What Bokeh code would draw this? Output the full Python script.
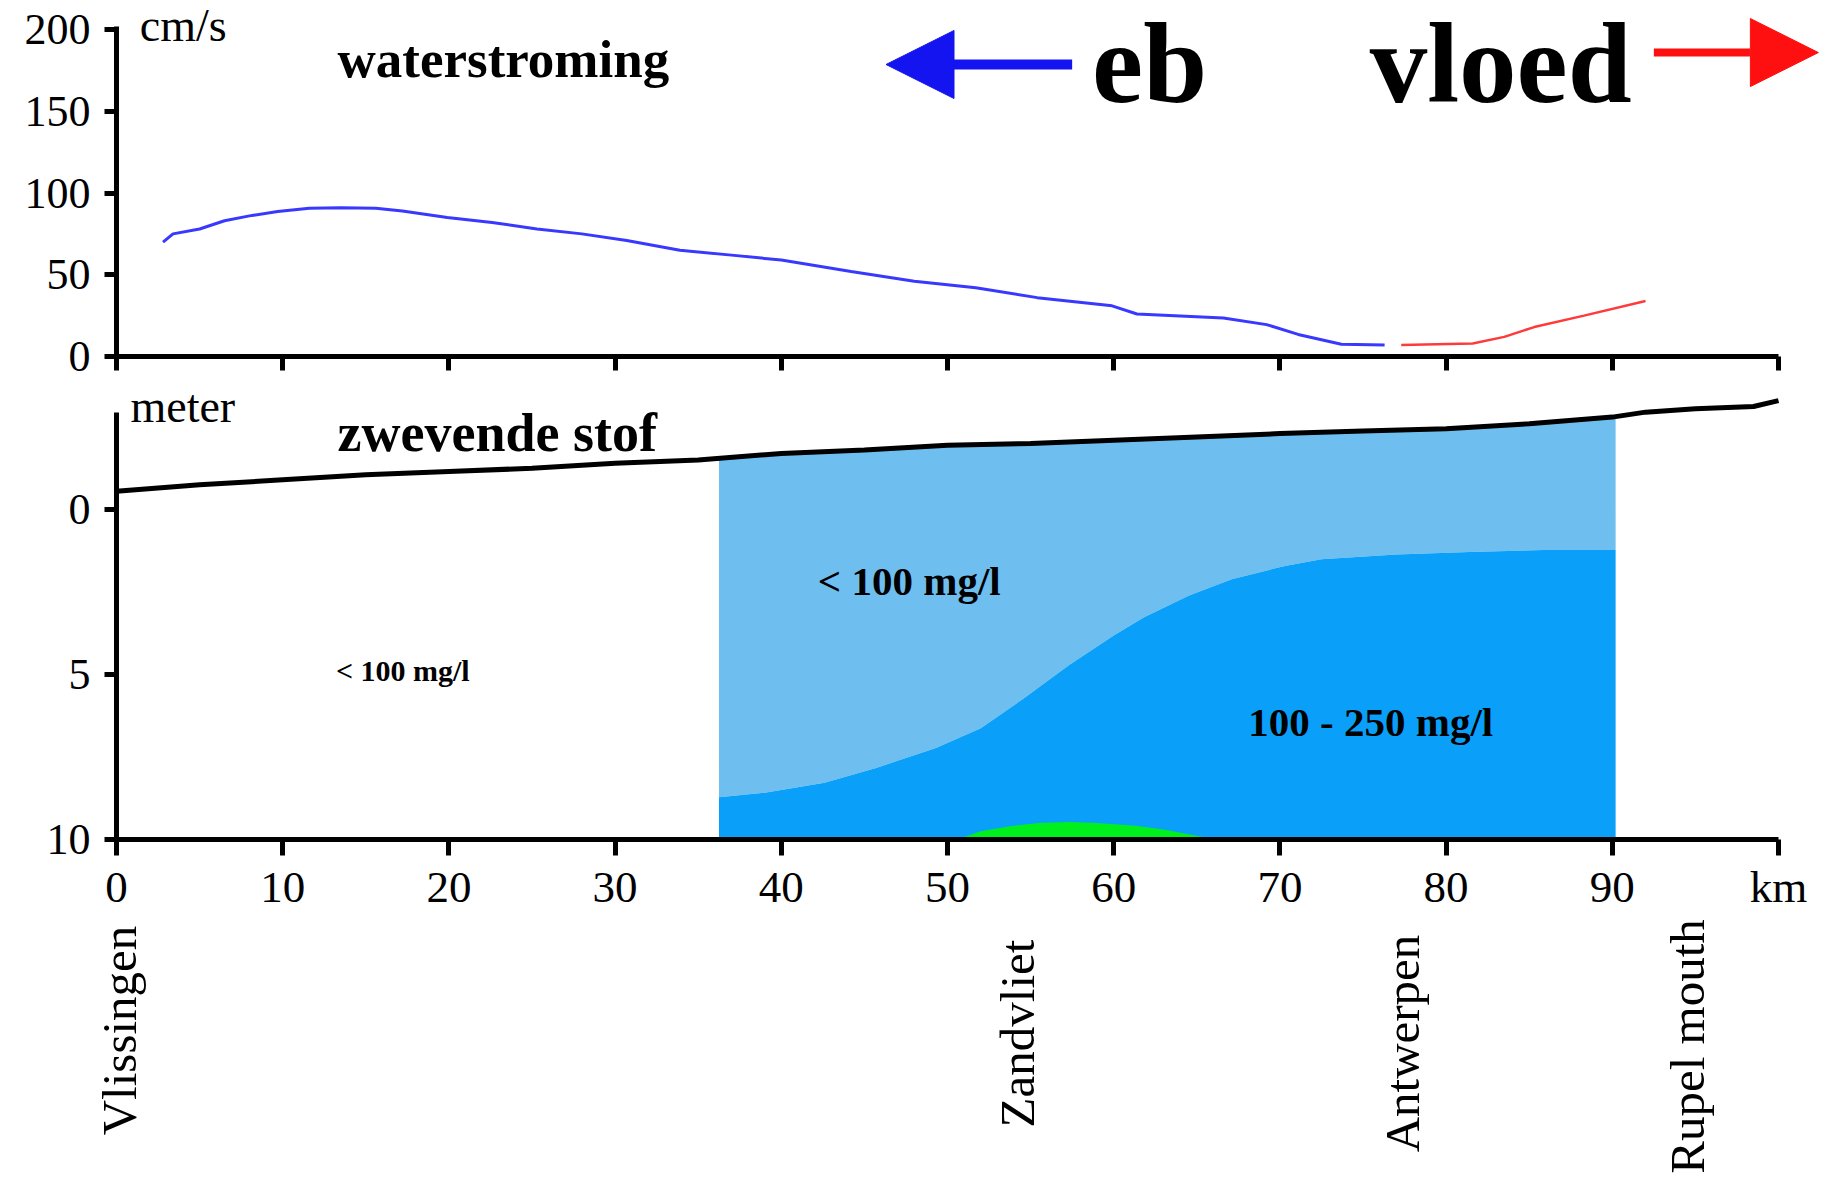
import numpy as np
from bokeh.plotting import figure
from bokeh.layouts import column
from bokeh.models import Range1d, FixedTicker, Arrow, NormalHead
from bokeh.core.properties import value
from bokeh.embed import file_html
from bokeh.resources import INLINE

# ---------------- data ----------------
# ebb current velocity (cm/s) along the estuary (km)
eb_km = [2.8, 3.4, 5, 6.5, 8, 9.7, 11.6, 13.5, 15.6, 17.2, 19.9, 22.6, 25.3, 28, 30.7,
         33.9, 37, 40, 44.2, 48, 51.7, 55.4, 59.9, 61.4, 66.6, 69.2, 71.1, 73.7, 76.3]
eb_v = [70, 75, 78, 83, 86, 88.7, 90.7, 91, 90.7, 89, 85, 82, 78, 75, 71,
        65, 62, 59, 52, 46, 42, 36, 31, 26, 23.5, 19.5, 13.5, 7.5, 7]
# flood current velocity
vloed_km = [77.3, 81.6, 83.5, 85.3, 88.3, 92]
vloed_v = [7, 8, 12, 18, 25, 34]

# water surface (m, depth axis pointing down)
surf_km = [0, 5, 10, 15, 20, 25, 30, 35, 40, 45, 50, 55, 60, 65, 70, 75, 80, 85, 90, 92, 95, 98.5, 100]
surf_d = [-0.55, -0.75, -0.9, -1.05, -1.15, -1.25, -1.4, -1.5, -1.7, -1.8, -1.95, -2.0, -2.1,
          -2.2, -2.3, -2.38, -2.45, -2.6, -2.8, -2.95, -3.05, -3.12, -3.3]

# suspended matter zones: boundary between <100 mg/l and 100-250 mg/l
zone_km = [36.25, 39, 42.6, 45.7, 49.3, 52, 54.6, 57.3, 60, 61.8, 64.5, 67.1, 70.3, 72.5,
           77, 81.4, 85.9, 90.2]
zone_mid = [8.72, 8.58, 8.28, 7.83, 7.23, 6.63, 5.72, 4.72, 3.82, 3.27, 2.61, 2.11, 1.71, 1.51,
            1.36, 1.29, 1.23, 1.23]
bottom_depth = 10
# high-concentration bump
green_km = [50.6, 52, 53.75, 55.5, 57.3, 59, 61.3, 63, 64.5, 66.2]
green_top = [10, 9.75, 9.6, 9.5, 9.47, 9.5, 9.58, 9.7, 9.84, 10]

x_ticks = [0, 10, 20, 30, 40, 50, 60, 70, 80, 90, 100]
v_ticks = [0, 50, 100, 150, 200]
d_ticks = [0, 5, 10]

places = ["Vlissingen", "Zandvliet", "Antwerpen", "Rupel mouth"]
places_km = [0.2, 54.2, 77.4, 94.5]

# ---------------- layout constants ----------------
W = 1822
LEFT = 116
PX_KM = 16.62
XMAX = (W - LEFT) / PX_KM
SERIF = "Liberation Serif"
LIGHT = "#6ebff0"
DARK = "#0aa0fa"
GREEN = "#00f01e"

xr = Range1d(0, XMAX)


def style(p):
    p.outline_line_color = None
    p.grid.visible = False
    p.background_fill_color = "white"
    p.border_fill_color = "white"


def style_axis(ax, ticks, tick_out, bounds, font="46px"):
    ax.ticker = FixedTicker(ticks=ticks)
    ax.bounds = bounds
    ax.axis_line_width = 5
    ax.axis_line_color = "black"
    ax.major_tick_line_width = 5
    ax.major_tick_line_color = "black"
    ax.major_tick_out = tick_out
    ax.major_tick_in = 0
    ax.minor_tick_line_color = None
    ax.major_label_text_font = SERIF
    ax.major_label_text_font_size = font
    ax.major_label_text_color = "black"


# ---------------- top panel: current ----------------
top_frame_h = 356
v_px = 1.635
top = figure(width=W, height=382, x_range=xr, y_range=Range1d(0, top_frame_h / v_px),
             output_backend="svg", toolbar_location=None,
             min_border_left=LEFT, min_border_right=0, min_border_top=0, min_border_bottom=26)
style(top)
style_axis(top.xaxis[0], x_ticks, 14, (0, 100), font="1px")
top.xaxis[0].major_label_text_color = None
top.xaxis[0].major_label_standoff = 0
style_axis(top.yaxis[0], v_ticks, 12, (0, 202), font="44px")
top.yaxis[0].major_label_standoff = 14

top.line(eb_km, eb_v, line_color="#3838ff", line_width=3)
top.line(vloed_km, vloed_v, line_color="#ff3a3a", line_width=2.5)

top.add_layout(Arrow(x_start=57.5, y_start=178.6, x_end=46.3, y_end=178.6,
                     line_color="#1414f0", line_width=10,
                     end=NormalHead(size=68, fill_color="#1414f0", line_color="#1414f0")))
top.add_layout(Arrow(x_start=92.5, y_start=185.9, x_end=102.4, y_end=185.9,
                     line_color="#ff1010", line_width=8,
                     end=NormalHead(size=68, fill_color="#ff1010", line_color="#ff1010")))

top.text(x=[1.4], y=[202.5], text=["cm/s"], text_font=value(SERIF), text_font_size="46px",
         text_color="black", text_baseline="alphabetic", text_align="left")
top.text(x=[13.3], y=[182.0], text=["waterstroming"], text_font=value(SERIF),
         text_font_size="53px", text_font_style="bold", text_color="black",
         text_baseline="alphabetic", text_align="left")
top.text(x=[58.7, 75.4], y=[179.3, 179.3], text=["eb", "vloed"], text_font=value(SERIF),
         text_font_size="115px", text_font_style="bold", text_color="black",
         text_baseline="alphabetic", text_align="left")

# ---------------- bottom panel: suspended matter ----------------
bot_frame_h = 457
d_px = 33.0
bot = figure(width=W, height=537, x_range=xr,
             y_range=Range1d(bottom_depth, bottom_depth - bot_frame_h / d_px),
             output_backend="svg", toolbar_location=None,
             min_border_left=LEFT, min_border_right=0, min_border_top=0, min_border_bottom=80)
style(bot)
style_axis(bot.xaxis[0], x_ticks, 16, (0, 100), font="45px")
bot.xaxis[0].major_label_overrides = {100: "km"}
bot.xaxis[0].major_label_standoff = 6
style_axis(bot.yaxis[0], d_ticks, 12, (-2.95, 10), font="44px")
bot.yaxis[0].major_label_standoff = 14

zone_top = np.interp(zone_km, surf_km, surf_d)
bot.varea(x=zone_km, y1=zone_top, y2=zone_mid, fill_color=LIGHT)
bot.varea(x=zone_km, y1=zone_mid, y2=[bottom_depth] * len(zone_km), fill_color=DARK)
bot.varea(x=green_km, y1=green_top, y2=[bottom_depth] * len(green_km), fill_color=GREEN)
bot.line(surf_km, surf_d, line_color="black", line_width=5)

bot.text(x=[0.84], y=[-3.12], text=["meter"], text_font=value(SERIF), text_font_size="46px",
         text_color="black", text_baseline="alphabetic", text_align="left")
bot.text(x=[13.3], y=[-2.33], text=["zwevende stof"], text_font=value(SERIF),
         text_font_size="54px", text_font_style="bold", text_color="black",
         text_baseline="alphabetic", text_align="left")
bot.text(x=[42.2, 68.1], y=[2.18, 6.44], text=["< 100 mg/l", "100 - 250 mg/l"],
         text_font=value(SERIF), text_font_size="41px", text_font_style="bold",
         text_color="black", text_baseline="alphabetic", text_align="left")
bot.text(x=[13.2], y=[4.89], text=["< 100 mg/l"], text_font=value(SERIF), text_font_size="30px",
         text_font_style="bold", text_color="black", text_baseline="alphabetic", text_align="left")

# ---------------- place names ----------------
names_h = 256
names = figure(width=W, height=names_h, x_range=Range1d(-LEFT / PX_KM, XMAX),
               y_range=Range1d(0, names_h),
               x_axis_type=None, y_axis_type=None,
               output_backend="svg", toolbar_location=None,
               min_border_left=0, min_border_right=0, min_border_top=0, min_border_bottom=0)
names.frame_align = False
style(names)
names.text(x=places_km, y=[145, 142, 132, 129], text=places, angle=np.pi / 2,
           text_font=value(SERIF), text_font_size="49px", text_color="black",
           text_align="center", text_baseline="middle")

layout = column(top, bot, names)
open("out.html", "w").write(file_html(layout, INLINE))
